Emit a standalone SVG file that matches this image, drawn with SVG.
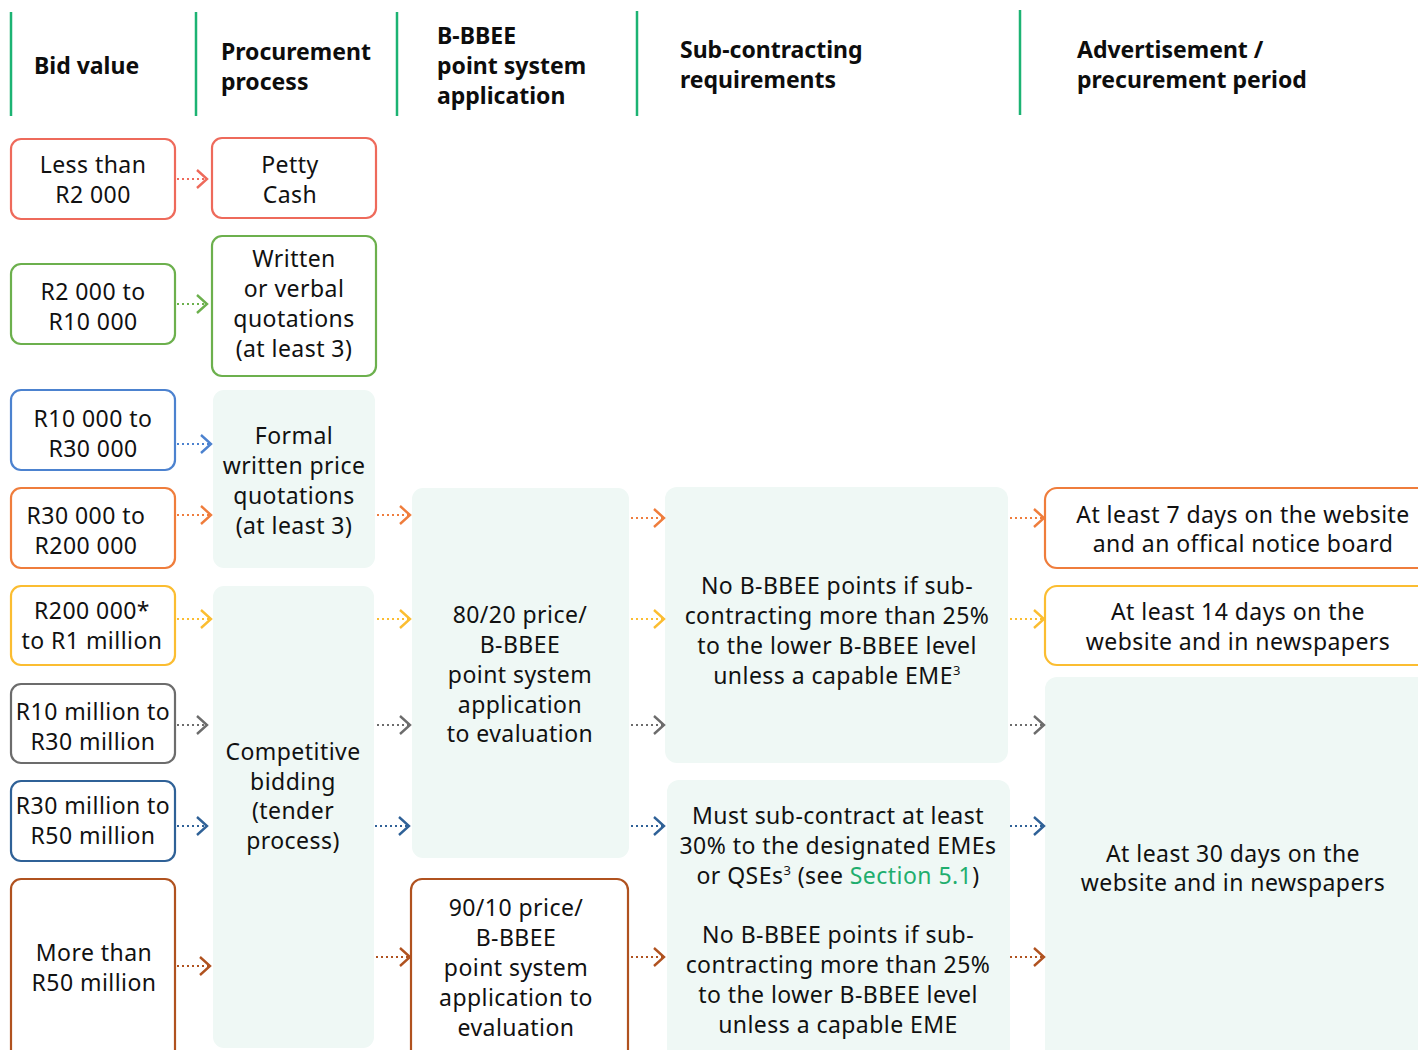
<svg xmlns="http://www.w3.org/2000/svg" width="1418" height="1050" viewBox="0 0 1418 1050">
<style>
.hdr{font-family:"Noto Sans","Liberation Sans",sans-serif;font-size:23px;font-weight:700;fill:#0d0d0d}
.t{font-family:"Noto Sans","Liberation Sans",sans-serif;font-size:23px;letter-spacing:0.45px;fill:#111;text-anchor:middle}
.sup{font-size:13px}
.link{fill:#1fae6e}
.hl{stroke:#1cb373;stroke-width:2.5}
.box{stroke-width:2.2;fill:#fff}
.soft{fill:#eff8f5}
.red{stroke:#ee6a5b}.green{stroke:#6cb04d}.blue{stroke:#4c82cf}.orange{stroke:#ef7d3c}
.yellow{stroke:#fbbd31}.gray{stroke:#6c6c6c}.dblue{stroke:#2f6197}.brown{stroke:#b0521f}
.c{stroke-width:2;stroke-dasharray:2 3;fill:none}
.ch{fill:none;stroke-width:2.4}
</style>
<defs>
<marker id="m-red" markerUnits="userSpaceOnUse" markerWidth="14" markerHeight="22" viewBox="0 0 14 22" refX="12" refY="11" orient="auto"><path class="ch red" d="M2,2 L12,11 L2,20"/></marker>
<marker id="m-green" markerUnits="userSpaceOnUse" markerWidth="14" markerHeight="22" viewBox="0 0 14 22" refX="12" refY="11" orient="auto"><path class="ch green" d="M2,2 L12,11 L2,20"/></marker>
<marker id="m-blue" markerUnits="userSpaceOnUse" markerWidth="14" markerHeight="22" viewBox="0 0 14 22" refX="12" refY="11" orient="auto"><path class="ch blue" d="M2,2 L12,11 L2,20"/></marker>
<marker id="m-orange" markerUnits="userSpaceOnUse" markerWidth="14" markerHeight="22" viewBox="0 0 14 22" refX="12" refY="11" orient="auto"><path class="ch orange" d="M2,2 L12,11 L2,20"/></marker>
<marker id="m-yellow" markerUnits="userSpaceOnUse" markerWidth="14" markerHeight="22" viewBox="0 0 14 22" refX="12" refY="11" orient="auto"><path class="ch yellow" d="M2,2 L12,11 L2,20"/></marker>
<marker id="m-gray" markerUnits="userSpaceOnUse" markerWidth="14" markerHeight="22" viewBox="0 0 14 22" refX="12" refY="11" orient="auto"><path class="ch gray" d="M2,2 L12,11 L2,20"/></marker>
<marker id="m-dblue" markerUnits="userSpaceOnUse" markerWidth="14" markerHeight="22" viewBox="0 0 14 22" refX="12" refY="11" orient="auto"><path class="ch dblue" d="M2,2 L12,11 L2,20"/></marker>
<marker id="m-brown" markerUnits="userSpaceOnUse" markerWidth="14" markerHeight="22" viewBox="0 0 14 22" refX="12" refY="11" orient="auto"><path class="ch brown" d="M2,2 L12,11 L2,20"/></marker>
</defs>
<rect width="1418" height="1050" fill="#fff"/>

<g id="header">
<line class="hl" x1="11" y1="12" x2="11" y2="116"/>
<line class="hl" x1="196" y1="12" x2="196" y2="116"/>
<line class="hl" x1="397" y1="12" x2="397" y2="116"/>
<line class="hl" x1="637" y1="11" x2="637" y2="116"/>
<line class="hl" x1="1020" y1="10" x2="1020" y2="115"/>
<text class="hdr" x="34" y="74">Bid value</text>
<text class="hdr" x="221"><tspan x="221" y="60">Procurement</tspan><tspan x="221" y="90">process</tspan></text>
<text class="hdr" x="437"><tspan x="437" y="44">B-BBEE</tspan><tspan x="437" y="74">point system</tspan><tspan x="437" y="104">application</tspan></text>
<text class="hdr" x="680"><tspan x="680" y="58">Sub-contracting</tspan><tspan x="680" y="88">requirements</tspan></text>
<text class="hdr" x="1077"><tspan x="1077" y="58">Advertisement /</tspan><tspan x="1077" y="88">precurement period</tspan></text>
</g>

<g id="bid-lt2k"><rect class="box red" x="11" y="139" width="164" height="80" rx="10"/><text class="t"><tspan x="93" y="173">Less than</tspan><tspan x="93" y="203">R2 000</tspan></text></g>
<g id="bid-2k-10k"><rect class="box green" x="11" y="264" width="164" height="80" rx="10"/><text class="t"><tspan x="93" y="300">R2 000 to</tspan><tspan x="93" y="330">R10 000</tspan></text></g>
<g id="bid-10k-30k"><rect class="box blue" x="11" y="390" width="164" height="80" rx="10"/><text class="t"><tspan x="93" y="427">R10 000 to</tspan><tspan x="93" y="457">R30 000</tspan></text></g>
<g id="bid-30k-200k"><rect class="box orange" x="11" y="488" width="164" height="80" rx="10"/><text class="t"><tspan x="86" y="524">R30 000 to</tspan><tspan x="86" y="554">R200 000</tspan></text></g>
<g id="bid-200k-1m"><rect class="box yellow" x="11" y="586" width="164" height="79" rx="10"/><text class="t"><tspan x="92" y="619">R200 000*</tspan><tspan x="92" y="649">to R1 million</tspan></text></g>
<g id="bid-10m-30m"><rect class="box gray" x="11" y="684" width="164" height="79" rx="10"/><text class="t"><tspan x="93" y="720">R10 million to</tspan><tspan x="93" y="750">R30 million</tspan></text></g>
<g id="bid-30m-50m"><rect class="box dblue" x="11" y="781" width="164" height="80" rx="10"/><text class="t"><tspan x="93" y="814">R30 million to</tspan><tspan x="93" y="844">R50 million</tspan></text></g>
<g id="bid-gt50m"><rect class="box brown" x="11" y="879" width="164" height="185" rx="10"/><text class="t"><tspan x="94" y="961">More than</tspan><tspan x="94" y="991">R50 million</tspan></text></g>

<g id="proc-petty"><rect class="box red" x="212" y="138" width="164" height="80" rx="10"/><text class="t"><tspan x="290" y="173">Petty</tspan><tspan x="290" y="203">Cash</tspan></text></g>
<g id="proc-written"><rect class="box green" x="212" y="236" width="164" height="140" rx="10"/><text class="t"><tspan x="294" y="267">Written</tspan><tspan x="294" y="297">or verbal</tspan><tspan x="294" y="327">quotations</tspan><tspan x="294" y="357">(at least 3)</tspan></text></g>
<g id="proc-formal"><rect class="soft" x="213" y="390" width="162" height="178" rx="11"/><text class="t"><tspan x="294" y="444">Formal</tspan><tspan x="294" y="474">written price</tspan><tspan x="294" y="504">quotations</tspan><tspan x="294" y="534">(at least 3)</tspan></text></g>
<g id="proc-competitive"><rect class="soft" x="213" y="586" width="161" height="462" rx="11"/><text class="t"><tspan x="293" y="760">Competitive</tspan><tspan x="293" y="790">bidding</tspan><tspan x="293" y="819">(tender</tspan><tspan x="293" y="849">process)</tspan></text></g>

<g id="pts-8020"><rect class="soft" x="412" y="488" width="217" height="370" rx="11"/><text class="t"><tspan x="520" y="623">80/20 price/</tspan><tspan x="520" y="653">B-BBEE</tspan><tspan x="520" y="683">point system</tspan><tspan x="520" y="713">application</tspan><tspan x="520" y="742">to evaluation</tspan></text></g>
<g id="pts-9010"><rect class="box brown" x="411" y="879" width="217" height="185" rx="11"/><text class="t"><tspan x="516" y="916">90/10 price/</tspan><tspan x="516" y="946">B-BBEE</tspan><tspan x="516" y="976">point system</tspan><tspan x="516" y="1006">application to</tspan><tspan x="516" y="1036">evaluation</tspan></text></g>

<g id="sub-nopoints"><rect class="soft" x="665" y="487" width="343" height="276" rx="12"/><text class="t"><tspan x="837" y="594">No B-BBEE points if sub-</tspan><tspan x="837" y="624">contracting more than 25%</tspan><tspan x="837" y="654">to the lower B-BBEE level</tspan><tspan x="837" y="684">unless a capable EME<tspan class="sup" dy="-9">3</tspan></tspan></text></g>
<g id="sub-must"><rect class="soft" x="667" y="780" width="343" height="280" rx="12"/><text class="t"><tspan x="838" y="824">Must sub-contract at least</tspan><tspan x="838" y="854">30% to the designated EMEs</tspan><tspan x="838" y="884">or QSEs<tspan class="sup" dy="-9">3</tspan><tspan dy="9"> (see </tspan><tspan class="link">Section 5.1</tspan>)</tspan><tspan x="838" y="943">No B-BBEE points if sub-</tspan><tspan x="838" y="973">contracting more than 25%</tspan><tspan x="838" y="1003">to the lower B-BBEE level</tspan><tspan x="838" y="1033">unless a capable EME</tspan></text></g>

<g id="adv-7"><rect class="box orange" x="1045" y="488" width="385" height="80" rx="12"/><text class="t"><tspan x="1243" y="523">At least 7 days on the website</tspan><tspan x="1243" y="552">and an offical notice board</tspan></text></g>
<g id="adv-14"><rect class="box yellow" x="1045" y="586" width="385" height="79" rx="12"/><text class="t"><tspan x="1238" y="620">At least 14 days on the</tspan><tspan x="1238" y="650">website and in newspapers</tspan></text></g>
<g id="adv-30"><rect class="soft" x="1045" y="677" width="385" height="385" rx="12"/><text class="t"><tspan x="1233" y="862">At least 30 days on the</tspan><tspan x="1233" y="891">website and in newspapers</tspan></text></g>

<g id="connectors">
<line class="c red" x1="177" y1="179" x2="207" y2="179" marker-end="url(#m-red)"/>
<line class="c green" x1="177" y1="304" x2="207" y2="304" marker-end="url(#m-green)"/>
<line class="c blue" x1="177" y1="444" x2="211" y2="444" marker-end="url(#m-blue)"/>
<line class="c orange" x1="177" y1="515" x2="211" y2="515" marker-end="url(#m-orange)"/>
<line class="c yellow" x1="177" y1="619" x2="211" y2="619" marker-end="url(#m-yellow)"/>
<line class="c gray" x1="177" y1="725" x2="207" y2="725" marker-end="url(#m-gray)"/>
<line class="c dblue" x1="177" y1="826" x2="207" y2="826" marker-end="url(#m-dblue)"/>
<line class="c brown" x1="177" y1="966" x2="210" y2="966" marker-end="url(#m-brown)"/>

<line class="c orange" x1="377" y1="515" x2="410" y2="515" marker-end="url(#m-orange)"/>
<line class="c yellow" x1="377" y1="619" x2="410" y2="619" marker-end="url(#m-yellow)"/>
<line class="c gray" x1="377" y1="725" x2="410" y2="725" marker-end="url(#m-gray)"/>
<line class="c dblue" x1="375" y1="826" x2="409" y2="826" marker-end="url(#m-dblue)"/>
<line class="c brown" x1="376" y1="957" x2="410" y2="957" marker-end="url(#m-brown)"/>

<line class="c orange" x1="631" y1="518" x2="664" y2="518" marker-end="url(#m-orange)"/>
<line class="c yellow" x1="631" y1="619" x2="664" y2="619" marker-end="url(#m-yellow)"/>
<line class="c gray" x1="631" y1="725" x2="664" y2="725" marker-end="url(#m-gray)"/>
<line class="c dblue" x1="631" y1="826" x2="664" y2="826" marker-end="url(#m-dblue)"/>
<line class="c brown" x1="631" y1="957" x2="664" y2="957" marker-end="url(#m-brown)"/>

<line class="c orange" x1="1010" y1="518" x2="1044" y2="518" marker-end="url(#m-orange)"/>
<line class="c yellow" x1="1010" y1="619" x2="1044" y2="619" marker-end="url(#m-yellow)"/>
<line class="c gray" x1="1010" y1="725" x2="1044" y2="725" marker-end="url(#m-gray)"/>
<line class="c dblue" x1="1010" y1="826" x2="1044" y2="826" marker-end="url(#m-dblue)"/>
<line class="c brown" x1="1010" y1="957" x2="1044" y2="957" marker-end="url(#m-brown)"/>
</g>
</svg>
